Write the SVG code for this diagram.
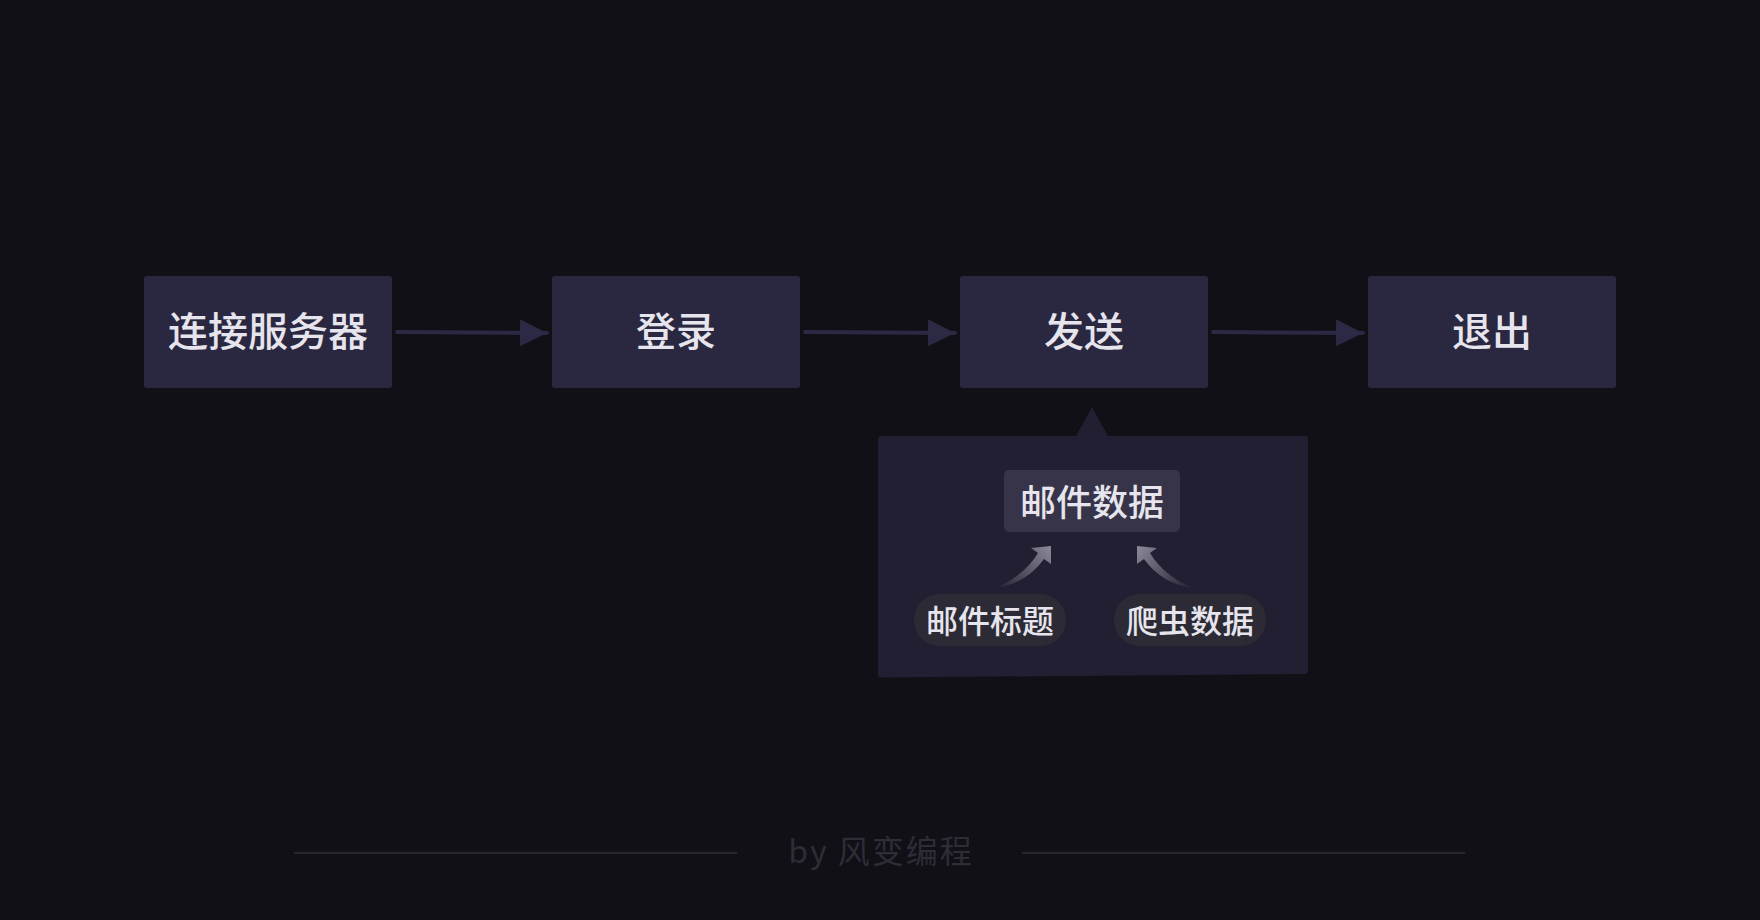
<svg xmlns="http://www.w3.org/2000/svg" width="1760" height="920" viewBox="0 0 1760 920">
<defs>
<style>
.box{fill:#2a2740}
.lbl{font-family:"Noto Sans CJK SC","Noto Sans",sans-serif;font-weight:500;fill:#e6e4ec;text-anchor:middle;dominant-baseline:central}
.conn{stroke:#2c2944;stroke-width:4;stroke-linecap:round;fill:none}
.pill{fill:#2c2b35}
.foot{font-family:"Noto Sans CJK SC","Noto Sans",sans-serif;fill:#2e2c36;text-anchor:middle;dominant-baseline:central}
</style>
<marker id="ah" markerWidth="28" markerHeight="28" viewBox="0 0 28 28" refX="27" refY="14" markerUnits="userSpaceOnUse" orient="auto">
<path d="M0,0.5 L27,14 L0,27.5 Z" fill="#2c2944"/>
</marker>
<linearGradient id="cg" gradientUnits="userSpaceOnUse" x1="995" y1="588" x2="1051" y2="546">
<stop offset="0" stop-color="#8b899a" stop-opacity="0"/>
<stop offset="1" stop-color="#8b899a" stop-opacity="1"/>
</linearGradient>
</defs>
<rect width="1760" height="920" fill="#111016"/>

<g id="connectors">
<path class="conn" d="M397,332 L547,333" marker-end="url(#ah)"/>
<path class="conn" d="M805,332 L955,333" marker-end="url(#ah)"/>
<path class="conn" d="M1213,332 L1363,333" marker-end="url(#ah)"/>
</g>

<g id="n1"><rect class="box" x="144" y="276" width="248" height="112" rx="3"/><text class="lbl" x="268" y="329" font-size="40">连接服务器</text></g>
<g id="n2"><rect class="box" x="552" y="276" width="248" height="112" rx="3"/><text class="lbl" x="676" y="329" font-size="40">登录</text></g>
<g id="n3"><rect class="box" x="960" y="276" width="248" height="112" rx="3"/><text class="lbl" x="1084" y="329" font-size="40">发送</text></g>
<g id="n4"><rect class="box" x="1368" y="276" width="248" height="112" rx="3"/><text class="lbl" x="1492" y="329" font-size="40">退出</text></g>

<g id="panel">
<path d="M881,436 L1076,436 L1092,407 L1108,436 L1305,436 Q1308,436 1308,439 L1308,671 Q1308,674 1305,674 L881,677.5 Q878,677.5 878,674.5 L878,439 Q878,436 881,436 Z" fill="#221f32"/>
<g id="n5"><rect x="1004" y="470" width="176" height="62" rx="5" fill="#37344a"/><text class="lbl" x="1092" y="500" font-size="36">邮件数据</text></g>
<g id="n6"><rect class="pill" x="914" y="594" width="152" height="52" rx="26"/><text class="lbl" x="990" y="619" font-size="32">邮件标题</text></g>
<g id="n7"><rect class="pill" x="1114" y="594" width="152" height="52" rx="26"/><text class="lbl" x="1190" y="619" font-size="32">爬虫数据</text></g>
<g id="curves">
<path d="M995,588 Q1024,576 1038,553 L1031,548 L1051,546 L1051,564 L1044,559 Q1026,584 995,588 Z" fill="url(#cg)"/>
<g transform="translate(2188,0) scale(-1,1)"><path d="M995,588 Q1024,576 1038,553 L1031,548 L1051,546 L1051,564 L1044,559 Q1026,584 995,588 Z" fill="url(#cg)"/></g>
</g>
</g>

<g id="footer">
<line x1="294" y1="853" x2="737" y2="853" stroke="#27262e" stroke-width="2"/>
<line x1="1022" y1="853" x2="1465" y2="853" stroke="#27262e" stroke-width="2"/>
<text class="foot" x="881" y="849" font-size="32" letter-spacing="2">by 风变编程</text>
</g>
</svg>
